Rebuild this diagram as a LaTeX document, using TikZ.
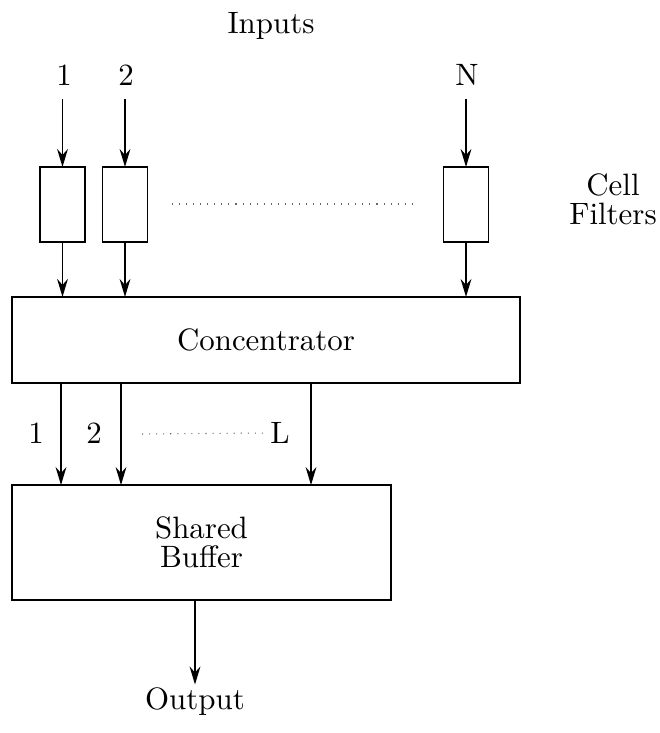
\documentclass[tikz,border=0pt]{standalone}
\usepackage{tikz}
\usetikzlibrary{arrows.meta}

\begin{document}
\begin{tikzpicture}[
  x=0.3333pt, y=-0.3333pt,
  font=\fontsize{10.3}{9.8}\selectfont,
  filter/.style = {rectangle, draw=black, line width=0.65pt, minimum width=15pt, minimum height=25pt, inner sep=0pt, outer sep=0pt},
  block/.style = {rectangle, draw=black, line width=0.65pt, inner sep=0pt, outer sep=0pt, align=center},
  lbl/.style = {inner sep=1pt, align=center},
  arrow/.style = {line width=0.5pt, -{Stealth[length=6pt, width=3.6pt, inset=2pt]}},
  dots/.style = {line width=0.35pt, dotted, black!60}
]
\useasboundingbox (0,0) rectangle (659,733);

\node[lbl] (inputs) at (271,26) {Inputs};
\node[lbl] (lab1) at (64,75) {1};
\node[lbl] (lab2) at (126,75) {2};
\node[lbl] (labN) at (467,75) {N};
\coordinate (intop) at (0,99);

\node[filter] (f1) at (62.5,204.5) {};
\node[filter] (f2) at (125,204.5) {};
\node[filter] (fN) at (466,204.5) {};
\node[lbl] (cells) at (613,199) {Cell\\Filters};
\coordinate (dotA) at (172,204);
\coordinate (dotB) at (412,204);

\node[block, minimum width=169.3pt, minimum height=28.7pt] (conc) at (266,340) {Concentrator};
\node[block, minimum width=126.3pt, minimum height=38.3pt] (buf) at (201.5,542.5) {Shared\\Buffer};
\node[lbl] (output) at (195,702) {Output};

% concentrator outputs
\coordinate (o1) at (61,433);
\coordinate (o2) at (121,433);
\coordinate (oL) at (311,433);
\coordinate (dotC) at (142,434);
\node[lbl] (out1) at (36,433) {1};
\node[lbl] (out2) at (94,433) {2};
\node[lbl] (outL) at (280,433) {L};

% input arrows
\draw[arrow] (f1.north |- intop) -- (f1.north);
\draw[arrow] (f2.north |- intop) -- (f2.north);
\draw[arrow] (fN.north |- intop) -- (fN.north);
\draw[dots] (dotA) -- (dotB);

% filters to concentrator
\draw[arrow] (f1.south) -- (f1.south |- conc.north);
\draw[arrow] (f2.south) -- (f2.south |- conc.north);
\draw[arrow] (fN.south) -- (fN.south |- conc.north);

% concentrator to buffer
\draw[arrow] (conc.south -| o1) -- (o1 |- buf.north);
\draw[arrow] (conc.south -| o2) -- (o2 |- buf.north);
\draw[arrow] (conc.south -| oL) -- (oL |- buf.north);
\draw[dots] (dotC) -- (outL.west);

\draw[arrow] (buf.south -| output) -- (output.north);
\end{tikzpicture}
\end{document}
